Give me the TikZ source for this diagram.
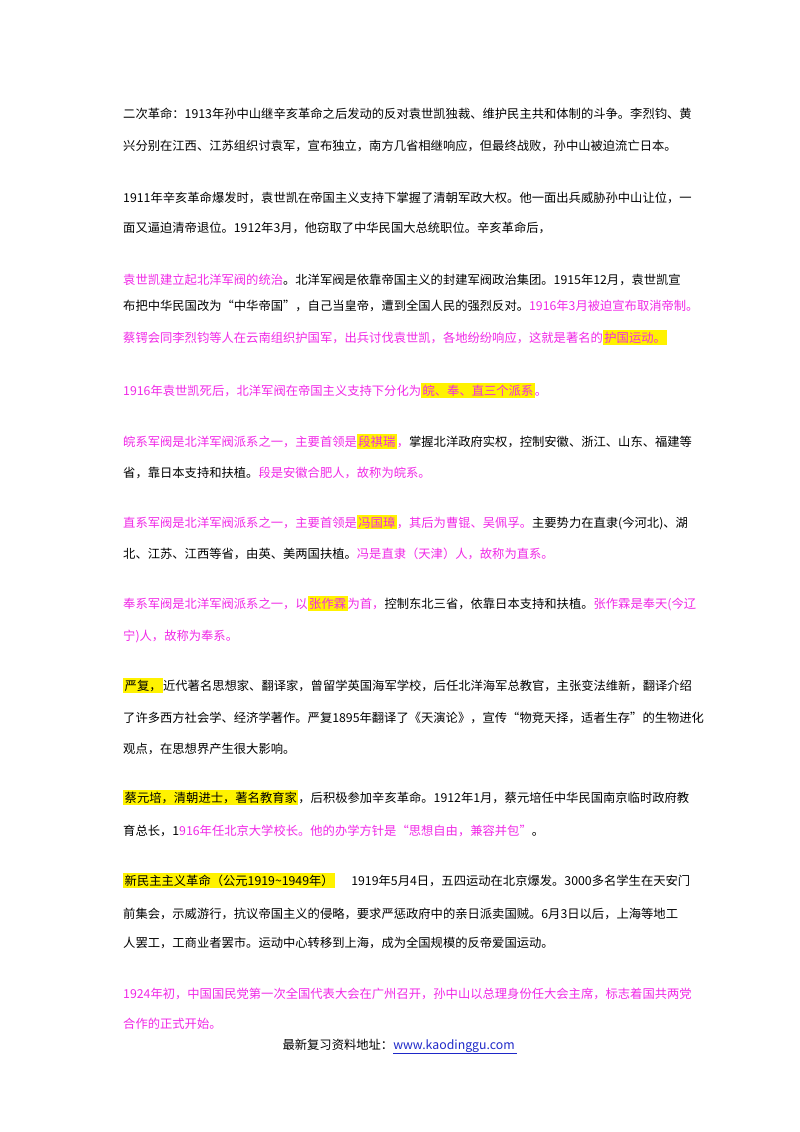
\documentclass[tikz,border=0pt]{standalone}
\usepackage{fontspec}
\setmainfont{Noto Sans CJK SC}
\usepackage{xcolor}
\definecolor{mg}{RGB}{240,40,230}
\definecolor{lk}{RGB}{30,40,200}
\XeTeXlinebreaklocale "zh"
\XeTeXlinebreakskip=0pt plus 3pt minus 1pt
\newcommand\hl[1]{{\setlength{\fboxsep}{1.5pt}\colorbox{yellow}{#1}}}
\newcommand\m[1]{\textcolor{mg}{#1}}
\tikzset{
 full/.style={anchor=base west, inner sep=0pt, font=\fontsize{12.3pt}{14pt}\selectfont},
 part/.style={anchor=base west, inner sep=0pt, font=\fontsize{12.3pt}{14pt}\selectfont}
}
\newcommand\fl[2]{\node[full] at (123,#1) {\hbox to 567pt{#2}};}
\newcommand\pl[2]{\node[part] at (123,#1) {#2};}
\begin{document}
\begin{tikzpicture}[x=1pt,y=-1pt]
\useasboundingbox (0,0) rectangle (800,1132);
\fl{118}{二次革命：1913年孙中山继辛亥革命之后发动的反对袁世凯独裁、维护民主共和体制的斗争。李烈钧、黄}
\pl{150}{兴分别在江西、江苏组织讨袁军，宣布独立，南方几省相继响应，但最终战败，孙中山被迫流亡日本。}
\fl{202}{1911年辛亥革命爆发时，袁世凯在帝国主义支持下掌握了清朝军政大权。他一面出兵威胁孙中山让位，一}
\pl{232}{面又逼迫清帝退位。1912年3月，他窃取了中华民国大总统职位。辛亥革命后，}
\fl{284}{\m{袁世凯建立起北洋军阀的统治}。北洋军阀是依靠帝国主义的封建军阀政治集团。1915年12月，袁世凯宣}
\fl{310}{布把中华民国改为“中华帝国”，自己当皇帝，遭到全国人民的强烈反对。\m{1916年3月被迫宣布取消帝制。}}
\pl{342}{\m{蔡锷会同李烈钧等人在云南组织护国军，出兵讨伐袁世凯，各地纷纷响应，这就是著名的\hl{护国运动。}}}
\pl{395}{\m{1916年袁世凯死后，北洋军阀在帝国主义支持下分化为\hl{皖、奉、直三个派系}。}}
\fl{446}{\m{皖系军阀是北洋军阀派系之一，主要首领是\hl{段祺瑞}，}掌握北洋政府实权，控制安徽、浙江、山东、福建等}
\pl{477}{省，靠日本支持和扶植。\m{段是安徽合肥人，故称为皖系。}}
\fl{527}{\m{直系军阀是北洋军阀派系之一，主要首领是\hl{冯国璋}，其后为曹锟、吴佩孚。}主要势力在直隶(今河北)、湖}
\pl{558}{北、江苏、江西等省，由英、美两国扶植。\m{冯是直隶（天津）人，故称为直系。}}
\fl{608}{\m{奉系军阀是北洋军阀派系之一，以\hl{张作霖}为首，}控制东北三省，依靠日本支持和扶植。\m{张作霖是奉天(今辽}}
\pl{640}{\m{宁)人，故称为奉系。}}
\fl{690}{\hl{严复，}近代著名思想家、翻译家，曾留学英国海军学校，后任北洋海军总教官，主张变法维新，翻译介绍}
\fl{722}{了许多西方社会学、经济学著作。严复1895年翻译了《天演论》，宣传“物竞天择，适者生存”的生物进化}
\pl{753}{观点，在思想界产生很大影响。}
\fl{802}{\hl{蔡元培，清朝进士，著名教育家}，后积极参加辛亥革命。1912年1月，蔡元培任中华民国南京临时政府教}
\pl{835}{育总长，1\m{916年任北京大学校长。他的办学方针是“思想自由，兼容并包”}。}
\fl{885}{\hl{新民主主义革命（公元1919\textasciitilde 1949年）} 1919年5月4日，五四运动在北京爆发。3000多名学生在天安门}
\fl{918}{前集会，示威游行，抗议帝国主义的侵略，要求严惩政府中的亲日派卖国贼。6月3日以后，上海等地工}
\pl{947}{人罢工，工商业者罢市。运动中心转移到上海，成为全国规模的反帝爱国运动。}
\fl{998}{\m{1924年初，中国国民党第一次全国代表大会在广州召开，孙中山以总理身份任大会主席，标志着国共两党}}
\pl{1028}{\m{合作的正式开始。}}
\node[part, anchor=base] (ft) at (400,1049) {最新复习资料地址：\textcolor{lk}{\underline{www.kaodinggu.com\ }}};
\end{tikzpicture}
\end{document}
